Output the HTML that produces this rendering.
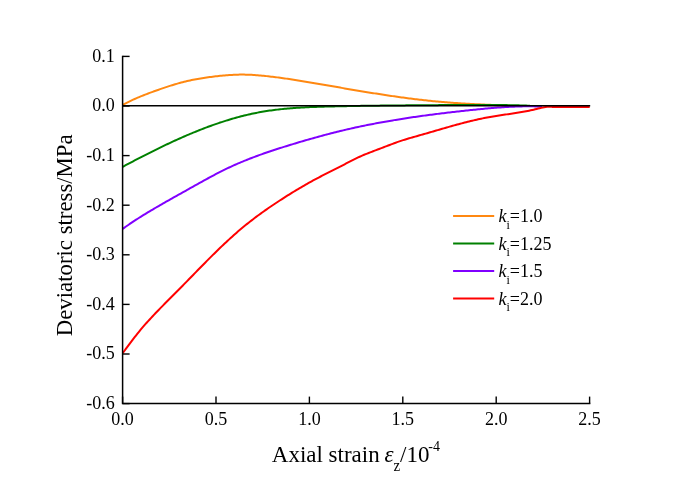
<!DOCTYPE html>
<html><head><meta charset="utf-8"><style>
html,body{margin:0;padding:0;background:#fff;}
svg{display:block;will-change:transform;}
.t{font-family:"Liberation Serif",serif;font-size:18px;fill:#000;}
.a{font-family:"Liberation Serif",serif;font-size:23px;fill:#000;}
</style></head><body>
<svg width="685" height="484" viewBox="0 0 685 484">
<rect width="685" height="484" fill="#fff"/>
<path d="M122.65 104.96 L124.15 104.15 L125.65 103.36 L127.15 102.60 L128.65 101.85 L130.15 101.11 L131.65 100.40 L133.15 99.70 L134.65 99.02 L136.15 98.36 L137.65 97.70 L139.15 97.07 L140.65 96.44 L142.15 95.83 L143.65 95.23 L145.15 94.64 L146.65 94.06 L148.15 93.49 L149.65 92.93 L151.15 92.38 L152.65 91.83 L154.15 91.29 L155.65 90.76 L157.15 90.23 L158.65 89.71 L160.15 89.18 L161.65 88.67 L163.15 88.15 L164.65 87.64 L166.15 87.14 L167.65 86.64 L169.15 86.15 L170.65 85.67 L172.15 85.20 L173.65 84.73 L175.15 84.28 L176.65 83.84 L178.15 83.40 L179.65 82.99 L181.15 82.58 L182.65 82.19 L184.15 81.81 L185.65 81.44 L187.15 81.09 L188.65 80.75 L190.15 80.42 L191.65 80.10 L193.15 79.80 L194.65 79.50 L196.15 79.21 L197.65 78.94 L199.15 78.68 L200.65 78.42 L202.15 78.18 L203.65 77.94 L205.15 77.71 L206.65 77.49 L208.15 77.28 L209.65 77.08 L211.15 76.89 L212.65 76.70 L214.15 76.52 L215.65 76.35 L217.15 76.18 L218.65 76.02 L220.15 75.86 L221.65 75.71 L223.15 75.57 L224.65 75.43 L226.15 75.30 L227.65 75.18 L229.15 75.07 L230.65 74.97 L232.15 74.88 L233.65 74.80 L235.15 74.73 L236.65 74.68 L238.15 74.63 L239.65 74.61 L241.15 74.59 L242.65 74.59 L244.15 74.61 L245.65 74.63 L247.15 74.67 L248.65 74.72 L250.15 74.79 L251.65 74.86 L253.15 74.95 L254.65 75.05 L256.15 75.15 L257.65 75.27 L259.15 75.39 L260.65 75.52 L262.15 75.66 L263.65 75.81 L265.15 75.96 L266.65 76.12 L268.15 76.29 L269.65 76.46 L271.15 76.64 L272.65 76.82 L274.15 77.00 L275.65 77.19 L277.15 77.38 L278.65 77.58 L280.15 77.78 L281.65 77.99 L283.15 78.20 L284.65 78.41 L286.15 78.63 L287.65 78.85 L289.15 79.07 L290.65 79.29 L292.15 79.52 L293.65 79.75 L295.15 79.99 L296.65 80.22 L298.15 80.46 L299.65 80.71 L301.15 80.95 L302.65 81.19 L304.15 81.44 L305.65 81.69 L307.15 81.94 L308.65 82.19 L310.15 82.45 L311.65 82.70 L313.15 82.96 L314.65 83.21 L316.15 83.47 L317.65 83.73 L319.15 83.98 L320.65 84.24 L322.15 84.50 L323.65 84.76 L325.15 85.02 L326.65 85.28 L328.15 85.54 L329.65 85.80 L331.15 86.06 L332.65 86.32 L334.15 86.58 L335.65 86.84 L337.15 87.10 L338.65 87.36 L340.15 87.61 L341.65 87.87 L343.15 88.13 L344.65 88.39 L346.15 88.64 L347.65 88.90 L349.15 89.16 L350.65 89.41 L352.15 89.67 L353.65 89.92 L355.15 90.17 L356.65 90.43 L358.15 90.68 L359.65 90.93 L361.15 91.18 L362.65 91.43 L364.15 91.67 L365.65 91.92 L367.15 92.17 L368.65 92.41 L370.15 92.65 L371.65 92.90 L373.15 93.14 L374.65 93.38 L376.15 93.61 L377.65 93.85 L379.15 94.08 L380.65 94.32 L382.15 94.55 L383.65 94.78 L385.15 95.01 L386.65 95.23 L388.15 95.46 L389.65 95.68 L391.15 95.90 L392.65 96.12 L394.15 96.34 L395.65 96.55 L397.15 96.77 L398.65 96.98 L400.15 97.19 L401.65 97.39 L403.15 97.60 L404.65 97.80 L406.15 98.00 L407.65 98.20 L409.15 98.39 L410.65 98.58 L412.15 98.77 L413.65 98.96 L415.15 99.15 L416.65 99.33 L418.15 99.51 L419.65 99.68 L421.15 99.86 L422.65 100.03 L424.15 100.20 L425.65 100.36 L427.15 100.52 L428.65 100.68 L430.15 100.84 L431.65 100.99 L433.15 101.14 L434.65 101.29 L436.15 101.43 L437.65 101.57 L439.15 101.71 L440.65 101.84 L442.15 101.97 L443.65 102.09 L445.15 102.22 L446.65 102.34 L448.15 102.45 L449.65 102.57 L451.15 102.68 L452.65 102.79 L454.15 102.89 L455.65 103.00 L457.15 103.10 L458.65 103.19 L460.15 103.29 L461.65 103.38 L463.15 103.47 L464.65 103.56 L466.15 103.65 L467.65 103.74 L469.15 103.82 L470.65 103.90 L472.15 103.98 L473.65 104.06 L475.15 104.14 L476.65 104.22 L478.15 104.29 L479.65 104.37 L481.15 104.44 L482.65 104.51 L484.15 104.58 L485.65 104.65 L487.15 104.72 L488.65 104.79 L490.15 104.86 L491.65 104.93 L493.15 105.00 L494.65 105.07 L496.15 105.13 L497.65 105.20 L499.15 105.27 L500.65 105.34 L502.15 105.41 L503.65 105.48 L505.15 105.54 L506.65 105.61 L508.15 105.68 L509.65 105.76 L510.00 105.77" stroke="#ff8811" stroke-width="2.00" fill="none" stroke-linejoin="round"/>
<path d="M122.65 166.83 L124.15 166.02 L125.65 165.22 L127.15 164.43 L128.65 163.63 L130.15 162.84 L131.65 162.05 L133.15 161.26 L134.65 160.47 L136.15 159.69 L137.65 158.91 L139.15 158.13 L140.65 157.36 L142.15 156.58 L143.65 155.82 L145.15 155.05 L146.65 154.29 L148.15 153.53 L149.65 152.77 L151.15 152.02 L152.65 151.27 L154.15 150.52 L155.65 149.78 L157.15 149.04 L158.65 148.31 L160.15 147.58 L161.65 146.85 L163.15 146.13 L164.65 145.41 L166.15 144.70 L167.65 143.99 L169.15 143.28 L170.65 142.58 L172.15 141.89 L173.65 141.20 L175.15 140.51 L176.65 139.83 L178.15 139.15 L179.65 138.48 L181.15 137.82 L182.65 137.16 L184.15 136.50 L185.65 135.85 L187.15 135.20 L188.65 134.57 L190.15 133.93 L191.65 133.30 L193.15 132.68 L194.65 132.07 L196.15 131.46 L197.65 130.85 L199.15 130.25 L200.65 129.66 L202.15 129.08 L203.65 128.50 L205.15 127.92 L206.65 127.36 L208.15 126.80 L209.65 126.25 L211.15 125.70 L212.65 125.16 L214.15 124.63 L215.65 124.10 L217.15 123.59 L218.65 123.08 L220.15 122.57 L221.65 122.08 L223.15 121.59 L224.65 121.11 L226.15 120.63 L227.65 120.17 L229.15 119.71 L230.65 119.26 L232.15 118.82 L233.65 118.39 L235.15 117.96 L236.65 117.55 L238.15 117.14 L239.65 116.74 L241.15 116.34 L242.65 115.96 L244.15 115.59 L245.65 115.22 L247.15 114.87 L248.65 114.52 L250.15 114.18 L251.65 113.85 L253.15 113.53 L254.65 113.22 L256.15 112.91 L257.65 112.62 L259.15 112.34 L260.65 112.07 L262.15 111.80 L263.65 111.55 L265.15 111.30 L266.65 111.06 L268.15 110.83 L269.65 110.61 L271.15 110.40 L272.65 110.19 L274.15 110.00 L275.65 109.81 L277.15 109.63 L278.65 109.45 L280.15 109.28 L281.65 109.12 L283.15 108.97 L284.65 108.82 L286.15 108.68 L287.65 108.54 L289.15 108.41 L290.65 108.29 L292.15 108.17 L293.65 108.06 L295.15 107.95 L296.65 107.85 L298.15 107.75 L299.65 107.66 L301.15 107.57 L302.65 107.49 L304.15 107.41 L305.65 107.33 L307.15 107.26 L308.65 107.19 L310.15 107.12 L311.65 107.06 L313.15 107.00 L314.65 106.95 L316.15 106.89 L317.65 106.84 L319.15 106.79 L320.65 106.75 L322.15 106.70 L323.65 106.66 L325.15 106.62 L326.65 106.58 L328.15 106.54 L329.65 106.50 L331.15 106.46 L332.65 106.43 L334.15 106.39 L335.65 106.36 L337.15 106.32 L338.65 106.29 L340.15 106.26 L341.65 106.23 L343.15 106.19 L344.65 106.16 L346.15 106.13 L347.65 106.11 L349.15 106.08 L350.65 106.05 L352.15 106.02 L353.65 106.00 L355.15 105.97 L356.65 105.95 L358.15 105.92 L359.65 105.90 L361.15 105.87 L362.65 105.85 L364.15 105.83 L365.65 105.81 L367.15 105.79 L368.65 105.76 L370.15 105.74 L371.65 105.72 L373.15 105.70 L374.65 105.69 L376.15 105.67 L377.65 105.65 L379.15 105.63 L380.65 105.61 L382.15 105.60 L383.65 105.58 L385.15 105.56 L386.65 105.55 L388.15 105.53 L389.65 105.52 L391.15 105.50 L392.65 105.49 L394.15 105.47 L395.65 105.46 L397.15 105.45 L398.65 105.43 L400.15 105.42 L401.65 105.41 L403.15 105.39 L404.65 105.38 L406.15 105.37 L407.65 105.36 L409.15 105.34 L410.65 105.33 L412.15 105.32 L413.65 105.31 L415.15 105.30 L416.65 105.28 L418.15 105.27 L419.65 105.26 L421.15 105.25 L422.65 105.24 L424.15 105.23 L425.65 105.22 L427.15 105.21 L428.65 105.19 L430.15 105.18 L431.65 105.17 L433.15 105.16 L434.65 105.15 L436.15 105.14 L437.65 105.13 L439.15 105.11 L440.65 105.10 L442.15 105.09 L443.65 105.08 L445.15 105.07 L446.65 105.06 L448.15 105.04 L449.65 105.03 L451.15 105.02 L452.65 105.01 L454.15 105.00 L455.65 104.99 L457.15 104.98 L458.65 104.97 L460.15 104.96 L461.65 104.95 L463.15 104.94 L464.65 104.93 L466.15 104.92 L467.65 104.92 L469.15 104.91 L470.65 104.91 L472.15 104.90 L473.65 104.90 L475.15 104.89 L476.65 104.89 L478.15 104.89 L479.65 104.89 L481.15 104.89 L482.65 104.89 L484.15 104.90 L485.65 104.90 L487.15 104.91 L488.65 104.91 L490.15 104.92 L491.65 104.93 L493.15 104.94 L494.65 104.95 L496.15 104.97 L497.65 104.98 L499.15 105.00 L500.65 105.02 L502.15 105.04 L503.65 105.06 L505.15 105.08 L506.65 105.10 L508.15 105.13 L509.65 105.16 L511.15 105.19 L512.65 105.22 L514.15 105.26 L515.65 105.29 L517.15 105.33 L518.65 105.37 L520.15 105.41 L521.65 105.46 L523.15 105.51 L524.65 105.55 L526.15 105.61 L527.65 105.66 L529.15 105.72 L530.00 105.75" stroke="#008000" stroke-width="2.00" fill="none" stroke-linejoin="round"/>
<path d="M122.65 228.92 L124.15 227.85 L125.65 226.79 L127.15 225.74 L128.65 224.71 L130.15 223.68 L131.65 222.67 L133.15 221.67 L134.65 220.68 L136.15 219.71 L137.65 218.74 L139.15 217.78 L140.65 216.83 L142.15 215.89 L143.65 214.96 L145.15 214.03 L146.65 213.11 L148.15 212.20 L149.65 211.30 L151.15 210.41 L152.65 209.52 L154.15 208.63 L155.65 207.75 L157.15 206.88 L158.65 206.01 L160.15 205.15 L161.65 204.28 L163.15 203.43 L164.65 202.57 L166.15 201.72 L167.65 200.87 L169.15 200.02 L170.65 199.18 L172.15 198.33 L173.65 197.49 L175.15 196.65 L176.65 195.81 L178.15 194.97 L179.65 194.13 L181.15 193.29 L182.65 192.45 L184.15 191.61 L185.65 190.77 L187.15 189.93 L188.65 189.09 L190.15 188.24 L191.65 187.40 L193.15 186.56 L194.65 185.72 L196.15 184.88 L197.65 184.04 L199.15 183.20 L200.65 182.37 L202.15 181.54 L203.65 180.71 L205.15 179.88 L206.65 179.06 L208.15 178.25 L209.65 177.44 L211.15 176.63 L212.65 175.83 L214.15 175.03 L215.65 174.24 L217.15 173.46 L218.65 172.69 L220.15 171.92 L221.65 171.16 L223.15 170.41 L224.65 169.67 L226.15 168.94 L227.65 168.22 L229.15 167.51 L230.65 166.81 L232.15 166.12 L233.65 165.44 L235.15 164.77 L236.65 164.10 L238.15 163.45 L239.65 162.81 L241.15 162.17 L242.65 161.55 L244.15 160.93 L245.65 160.32 L247.15 159.72 L248.65 159.12 L250.15 158.53 L251.65 157.96 L253.15 157.38 L254.65 156.82 L256.15 156.26 L257.65 155.71 L259.15 155.16 L260.65 154.62 L262.15 154.09 L263.65 153.56 L265.15 153.04 L266.65 152.52 L268.15 152.01 L269.65 151.50 L271.15 151.00 L272.65 150.50 L274.15 150.01 L275.65 149.52 L277.15 149.03 L278.65 148.55 L280.15 148.07 L281.65 147.59 L283.15 147.12 L284.65 146.65 L286.15 146.18 L287.65 145.72 L289.15 145.26 L290.65 144.80 L292.15 144.34 L293.65 143.88 L295.15 143.43 L296.65 142.98 L298.15 142.53 L299.65 142.08 L301.15 141.64 L302.65 141.20 L304.15 140.76 L305.65 140.32 L307.15 139.89 L308.65 139.46 L310.15 139.03 L311.65 138.60 L313.15 138.18 L314.65 137.76 L316.15 137.34 L317.65 136.93 L319.15 136.51 L320.65 136.11 L322.15 135.70 L323.65 135.30 L325.15 134.90 L326.65 134.50 L328.15 134.11 L329.65 133.72 L331.15 133.33 L332.65 132.95 L334.15 132.57 L335.65 132.19 L337.15 131.81 L338.65 131.44 L340.15 131.08 L341.65 130.71 L343.15 130.35 L344.65 130.00 L346.15 129.65 L347.65 129.30 L349.15 128.95 L350.65 128.61 L352.15 128.27 L353.65 127.94 L355.15 127.60 L356.65 127.28 L358.15 126.95 L359.65 126.63 L361.15 126.32 L362.65 126.00 L364.15 125.69 L365.65 125.38 L367.15 125.08 L368.65 124.78 L370.15 124.48 L371.65 124.19 L373.15 123.90 L374.65 123.61 L376.15 123.32 L377.65 123.04 L379.15 122.76 L380.65 122.49 L382.15 122.22 L383.65 121.95 L385.15 121.68 L386.65 121.41 L388.15 121.15 L389.65 120.89 L391.15 120.64 L392.65 120.39 L394.15 120.13 L395.65 119.89 L397.15 119.64 L398.65 119.40 L400.15 119.16 L401.65 118.92 L403.15 118.69 L404.65 118.45 L406.15 118.22 L407.65 118.00 L409.15 117.77 L410.65 117.55 L412.15 117.33 L413.65 117.11 L415.15 116.89 L416.65 116.68 L418.15 116.46 L419.65 116.25 L421.15 116.04 L422.65 115.84 L424.15 115.63 L425.65 115.43 L427.15 115.23 L428.65 115.03 L430.15 114.84 L431.65 114.64 L433.15 114.45 L434.65 114.26 L436.15 114.07 L437.65 113.88 L439.15 113.70 L440.65 113.51 L442.15 113.33 L443.65 113.15 L445.15 112.97 L446.65 112.79 L448.15 112.61 L449.65 112.44 L451.15 112.26 L452.65 112.09 L454.15 111.92 L455.65 111.75 L457.15 111.58 L458.65 111.41 L460.15 111.25 L461.65 111.08 L463.15 110.92 L464.65 110.75 L466.15 110.59 L467.65 110.43 L469.15 110.27 L470.65 110.11 L472.15 109.95 L473.65 109.80 L475.15 109.64 L476.65 109.49 L478.15 109.34 L479.65 109.19 L481.15 109.04 L482.65 108.90 L484.15 108.75 L485.65 108.61 L487.15 108.48 L488.65 108.34 L490.15 108.21 L491.65 108.08 L493.15 107.96 L494.65 107.84 L496.15 107.72 L497.65 107.60 L499.15 107.49 L500.65 107.39 L502.15 107.28 L503.65 107.19 L505.15 107.09 L506.65 107.00 L508.15 106.92 L509.65 106.84 L511.15 106.77 L512.65 106.70 L514.15 106.63 L515.65 106.58 L517.15 106.52 L518.65 106.48 L520.15 106.44 L521.65 106.40 L523.15 106.37 L524.65 106.35 L526.15 106.33 L527.65 106.33 L529.15 106.32 L530.65 106.33 L532.15 106.34 L533.65 106.36 L535.15 106.39 L536.65 106.42 L538.15 106.46 L539.65 106.51 L541.15 106.57 L542.00 106.61" stroke="#8000ff" stroke-width="2.00" fill="none" stroke-linejoin="round"/>
<path d="M122.65 353.25 L124.15 351.23 L125.65 349.21 L127.15 347.18 L128.65 345.16 L130.15 343.15 L131.65 341.16 L133.15 339.18 L134.65 337.22 L136.15 335.29 L137.65 333.40 L139.15 331.54 L140.65 329.72 L142.15 327.93 L143.65 326.18 L145.15 324.46 L146.65 322.77 L148.15 321.11 L149.65 319.47 L151.15 317.84 L152.65 316.23 L154.15 314.64 L155.65 313.06 L157.15 311.49 L158.65 309.94 L160.15 308.40 L161.65 306.86 L163.15 305.33 L164.65 303.81 L166.15 302.29 L167.65 300.78 L169.15 299.27 L170.65 297.77 L172.15 296.26 L173.65 294.76 L175.15 293.25 L176.65 291.75 L178.15 290.24 L179.65 288.72 L181.15 287.20 L182.65 285.68 L184.15 284.15 L185.65 282.62 L187.15 281.08 L188.65 279.55 L190.15 278.01 L191.65 276.47 L193.15 274.93 L194.65 273.39 L196.15 271.85 L197.65 270.31 L199.15 268.78 L200.65 267.25 L202.15 265.72 L203.65 264.19 L205.15 262.68 L206.65 261.16 L208.15 259.65 L209.65 258.15 L211.15 256.65 L212.65 255.16 L214.15 253.68 L215.65 252.21 L217.15 250.74 L218.65 249.28 L220.15 247.84 L221.65 246.40 L223.15 244.97 L224.65 243.55 L226.15 242.15 L227.65 240.75 L229.15 239.37 L230.65 238.00 L232.15 236.64 L233.65 235.30 L235.15 233.97 L236.65 232.65 L238.15 231.35 L239.65 230.07 L241.15 228.80 L242.65 227.55 L244.15 226.31 L245.65 225.09 L247.15 223.88 L248.65 222.68 L250.15 221.50 L251.65 220.34 L253.15 219.18 L254.65 218.04 L256.15 216.91 L257.65 215.80 L259.15 214.69 L260.65 213.60 L262.15 212.52 L263.65 211.45 L265.15 210.38 L266.65 209.33 L268.15 208.29 L269.65 207.26 L271.15 206.24 L272.65 205.22 L274.15 204.21 L275.65 203.21 L277.15 202.22 L278.65 201.24 L280.15 200.26 L281.65 199.29 L283.15 198.32 L284.65 197.36 L286.15 196.41 L287.65 195.47 L289.15 194.53 L290.65 193.60 L292.15 192.67 L293.65 191.75 L295.15 190.84 L296.65 189.94 L298.15 189.04 L299.65 188.15 L301.15 187.27 L302.65 186.39 L304.15 185.53 L305.65 184.67 L307.15 183.81 L308.65 182.97 L310.15 182.13 L311.65 181.30 L313.15 180.48 L314.65 179.67 L316.15 178.86 L317.65 178.06 L319.15 177.27 L320.65 176.49 L322.15 175.72 L323.65 174.95 L325.15 174.19 L326.65 173.43 L328.15 172.68 L329.65 171.93 L331.15 171.18 L332.65 170.42 L334.15 169.67 L335.65 168.92 L337.15 168.16 L338.65 167.39 L340.15 166.62 L341.65 165.84 L343.15 165.06 L344.65 164.28 L346.15 163.49 L347.65 162.71 L349.15 161.93 L350.65 161.15 L352.15 160.39 L353.65 159.63 L355.15 158.89 L356.65 158.16 L358.15 157.44 L359.65 156.75 L361.15 156.08 L362.65 155.42 L364.15 154.79 L365.65 154.17 L367.15 153.57 L368.65 152.97 L370.15 152.39 L371.65 151.81 L373.15 151.24 L374.65 150.68 L376.15 150.11 L377.65 149.55 L379.15 148.98 L380.65 148.41 L382.15 147.84 L383.65 147.26 L385.15 146.68 L386.65 146.11 L388.15 145.53 L389.65 144.95 L391.15 144.38 L392.65 143.82 L394.15 143.26 L395.65 142.71 L397.15 142.18 L398.65 141.65 L400.15 141.14 L401.65 140.64 L403.15 140.16 L404.65 139.68 L406.15 139.22 L407.65 138.77 L409.15 138.32 L410.65 137.89 L412.15 137.45 L413.65 137.03 L415.15 136.60 L416.65 136.18 L418.15 135.76 L419.65 135.33 L421.15 134.91 L422.65 134.48 L424.15 134.05 L425.65 133.62 L427.15 133.18 L428.65 132.75 L430.15 132.31 L431.65 131.87 L433.15 131.44 L434.65 131.00 L436.15 130.56 L437.65 130.13 L439.15 129.69 L440.65 129.25 L442.15 128.82 L443.65 128.38 L445.15 127.95 L446.65 127.52 L448.15 127.09 L449.65 126.66 L451.15 126.24 L452.65 125.82 L454.15 125.40 L455.65 124.99 L457.15 124.57 L458.65 124.17 L460.15 123.76 L461.65 123.36 L463.15 122.97 L464.65 122.58 L466.15 122.19 L467.65 121.81 L469.15 121.44 L470.65 121.07 L472.15 120.71 L473.65 120.35 L475.15 120.00 L476.65 119.66 L478.15 119.32 L479.65 118.99 L481.15 118.67 L482.65 118.36 L484.15 118.05 L485.65 117.76 L487.15 117.47 L488.65 117.19 L490.15 116.92 L491.65 116.66 L493.15 116.40 L494.65 116.16 L496.15 115.92 L497.65 115.69 L499.15 115.46 L500.65 115.24 L502.15 115.01 L503.65 114.80 L505.15 114.58 L506.65 114.37 L508.15 114.15 L509.65 113.93 L511.15 113.72 L512.65 113.50 L514.15 113.27 L515.65 113.04 L517.15 112.81 L518.65 112.57 L520.15 112.33 L521.65 112.07 L523.15 111.81 L524.65 111.54 L526.15 111.26 L527.65 110.97 L529.15 110.67 L530.65 110.35 L532.15 110.02 L533.65 109.68 L535.15 109.32 L536.65 108.95 L538.15 108.58 L539.65 108.21 L541.15 107.86 L542.65 107.54 L544.15 107.26 L545.65 107.03 L547.15 106.87 L548.65 106.77 L550.15 106.77 L551.65 106.85 L552.50 106.95 L560.00 106.90 L589.70 106.90" stroke="#ff0000" stroke-width="2.00" fill="none" stroke-linejoin="round"/>
<line x1="122.60" y1="105.70" x2="590.20" y2="105.70" stroke="#000" stroke-width="1.5"/>
<path d="M122.60 56.40 V403.60 H589.60" stroke="#000" stroke-width="1.50" fill="none" stroke-linejoin="miter" stroke-linecap="square"/>
<line x1="122.60" y1="403.60" x2="129.60" y2="403.60" stroke="#000" stroke-width="1.4"/>
<line x1="122.60" y1="354.00" x2="129.60" y2="354.00" stroke="#000" stroke-width="1.4"/>
<line x1="122.60" y1="304.40" x2="129.60" y2="304.40" stroke="#000" stroke-width="1.4"/>
<line x1="122.60" y1="254.80" x2="129.60" y2="254.80" stroke="#000" stroke-width="1.4"/>
<line x1="122.60" y1="205.20" x2="129.60" y2="205.20" stroke="#000" stroke-width="1.4"/>
<line x1="122.60" y1="155.60" x2="129.60" y2="155.60" stroke="#000" stroke-width="1.4"/>
<line x1="122.60" y1="106.00" x2="129.60" y2="106.00" stroke="#000" stroke-width="1.4"/>
<line x1="122.60" y1="56.40" x2="129.60" y2="56.40" stroke="#000" stroke-width="1.4"/>
<line x1="122.60" y1="403.60" x2="122.60" y2="396.60" stroke="#000" stroke-width="1.4"/>
<line x1="216.00" y1="403.60" x2="216.00" y2="396.60" stroke="#000" stroke-width="1.4"/>
<line x1="309.40" y1="403.60" x2="309.40" y2="396.60" stroke="#000" stroke-width="1.4"/>
<line x1="402.80" y1="403.60" x2="402.80" y2="396.60" stroke="#000" stroke-width="1.4"/>
<line x1="496.20" y1="403.60" x2="496.20" y2="396.60" stroke="#000" stroke-width="1.4"/>
<line x1="589.60" y1="403.60" x2="589.60" y2="396.60" stroke="#000" stroke-width="1.4"/>
<text x="114.80" y="408.90" text-anchor="end" class="t">-0.6</text>
<text x="114.80" y="359.30" text-anchor="end" class="t">-0.5</text>
<text x="114.80" y="309.70" text-anchor="end" class="t">-0.4</text>
<text x="114.80" y="260.10" text-anchor="end" class="t">-0.3</text>
<text x="114.80" y="210.50" text-anchor="end" class="t">-0.2</text>
<text x="114.80" y="160.90" text-anchor="end" class="t">-0.1</text>
<text x="114.80" y="111.30" text-anchor="end" class="t">0.0</text>
<text x="114.80" y="61.70" text-anchor="end" class="t">0.1</text>
<text x="122.60" y="425.20" text-anchor="middle" class="t">0.0</text>
<text x="216.00" y="425.20" text-anchor="middle" class="t">0.5</text>
<text x="309.40" y="425.20" text-anchor="middle" class="t">1.0</text>
<text x="402.80" y="425.20" text-anchor="middle" class="t">1.5</text>
<text x="496.20" y="425.20" text-anchor="middle" class="t">2.0</text>
<text x="589.60" y="425.20" text-anchor="middle" class="t">2.5</text>
<g transform="matrix(1 0 0 1.0450 0 -20.8125)">
<text x="271.8" y="462.50" class="a">Axial strain</text>
<text x="384.4" y="462.50" class="a" font-style="italic">ε</text>
<text x="393.6" y="470.60" class="a" style="font-size:15px">z</text>
<text x="400.0" y="462.50" class="a">/</text>
<text x="406.4" y="462.50" class="a">10</text>
<text x="428.3" y="451.30" class="a" style="font-size:14px">-4</text>
</g>
<text transform="translate(72.00 336.20) rotate(-90) scale(1 1.045)" class="a" style="font-size:22.8px">Deviatoric stress/MPa</text>
<line x1="453.1" y1="216.10" x2="494.2" y2="216.10" stroke="#ff8811" stroke-width="2.00"/>
<text x="498.5" y="222.30" class="t"><tspan font-style="italic">k</tspan><tspan font-size="12" dy="6.4">i</tspan><tspan dy="-6.4">=1.0</tspan></text>
<line x1="453.1" y1="243.50" x2="494.2" y2="243.50" stroke="#008000" stroke-width="2.00"/>
<text x="498.5" y="249.70" class="t"><tspan font-style="italic">k</tspan><tspan font-size="12" dy="6.4">i</tspan><tspan dy="-6.4">=1.25</tspan></text>
<line x1="453.1" y1="271.00" x2="494.2" y2="271.00" stroke="#8000ff" stroke-width="2.00"/>
<text x="498.5" y="277.20" class="t"><tspan font-style="italic">k</tspan><tspan font-size="12" dy="6.4">i</tspan><tspan dy="-6.4">=1.5</tspan></text>
<line x1="453.1" y1="298.50" x2="494.2" y2="298.50" stroke="#ff0000" stroke-width="2.00"/>
<text x="498.5" y="304.70" class="t"><tspan font-style="italic">k</tspan><tspan font-size="12" dy="6.4">i</tspan><tspan dy="-6.4">=2.0</tspan></text>
</svg>
</body></html>
